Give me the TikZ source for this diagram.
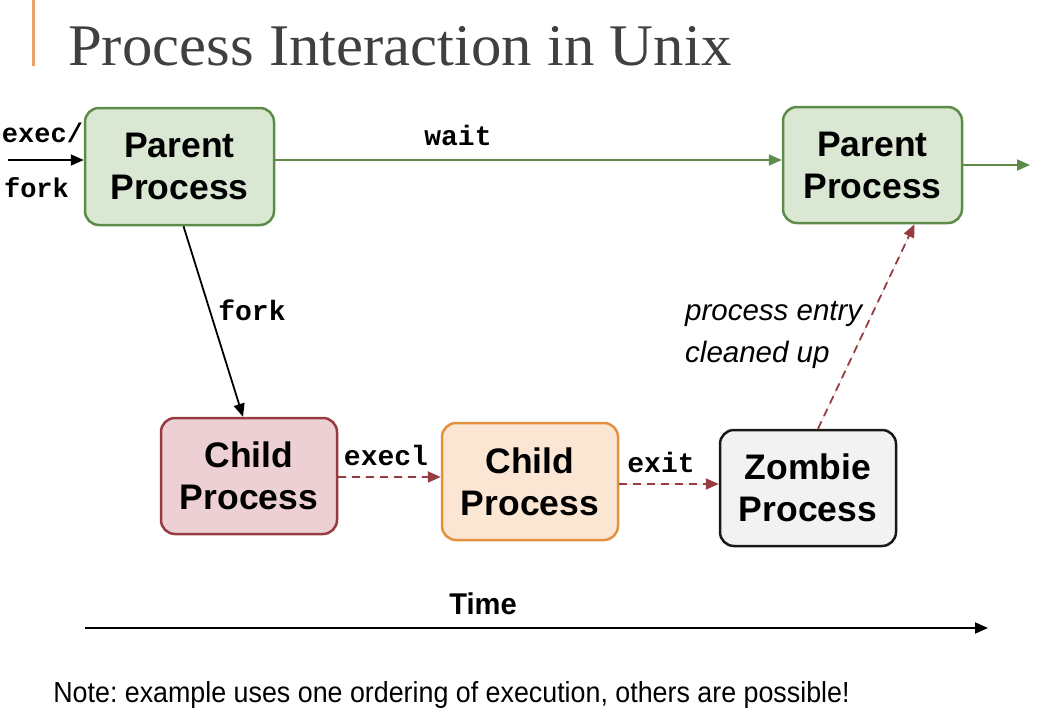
\documentclass[tikz,border=0pt]{standalone}
\usepackage{fontspec}
\usepackage{graphicx}
\setmainfont{Liberation Serif}
\setsansfont{Liberation Sans}
\setmonofont{Liberation Mono}
\usetikzlibrary{arrows.meta}
\frenchspacing
\definecolor{grnB}{HTML}{5D8B48}
\definecolor{grnF}{HTML}{DAE8D3}
\definecolor{redB}{HTML}{963C40}
\definecolor{redF}{HTML}{EDD0D3}
\definecolor{orgB}{HTML}{E3913F}
\definecolor{orgF}{HTML}{FAE6D3}
\definecolor{zomF}{HTML}{F2F2F2}
\definecolor{titleC}{HTML}{404040}
\definecolor{barC}{HTML}{E8A263}
\tikzset{
  procbox/.style={rounded corners=14pt, line width=2.5pt, minimum width=#1, minimum height=116pt,
    align=center, font=\fontsize{35.5}{42}\selectfont\sffamily\bfseries, inner sep=0pt},
  procbox/.default=176pt,
  monolbl/.style={font=\fontsize{28}{30}\selectfont\ttfamily\bfseries, inner sep=0pt},
  arr/.style={line width=1.8pt, -{Triangle[length=13pt,width=11pt]}},
  dsh/.style={arr, dash pattern=on 8pt off 6pt, draw=redB},
}
\begin{document}
\begin{tikzpicture}[x=1pt,y=-1pt]
\useasboundingbox (0,0) rectangle (1042,720);
% title
\fill[barC] (32,0) rectangle (35,66);
\node[anchor=base west, inner sep=0pt, text=titleC, font=\fontsize{59}{62}\selectfont] (title) at (68,65) {\scalebox{1.03}[1]{Process Interaction in Unix}};
% boxes
\node[procbox=189pt, draw=grnB, fill=grnF, minimum height=117pt] (p1) at (179.5,166.5) {Parent\\Process};
\node[procbox=179pt, draw=grnB, fill=grnF] (p2) at (872.5,165) {Parent\\Process};
\node[procbox, draw=redB, fill=redF] (c1) at (249,476) {Child\\Process};
\node[procbox, draw=orgB, fill=orgF, minimum height=117pt] (c2) at (530,481.5) {Child\\Process};
\node[procbox, draw=black!90, fill=zomF] (z) at (808,488) {Zombie\\Process};
% coordinates
\coordinate (in) at (8,160);
\coordinate (wy) at (0,160);
\coordinate (out) at (1030,165);
\coordinate (ey) at (0,484);
\coordinate (xy) at (0,477);
% connectors
\draw[arr] (in) -- (in -| p1.west);
\draw[arr, draw=grnB, fill=grnB] (p1.east |- wy) -- (p2.west |- wy);
\draw[arr, draw=grnB, fill=grnB] (p2.east |- out) -- (out);
\draw[arr] ([xshift=4pt]p1.south) -- ([xshift=-6pt]c1.north);
\draw[dsh, fill=redB] (c1.east |- xy) -- (c2.west |- xy);
\draw[dsh, fill=redB] (c2.east |- ey) -- (z.west |- ey);
\draw[dsh, fill=redB] ([xshift=10pt]z.north) -- ([xshift=42pt]p2.south);
% labels
\node[monolbl, font=\fontsize{27}{30}\selectfont\ttfamily\bfseries] (l1) at (42.5,133) {exec/};
\node[monolbl, font=\fontsize{27}{30}\selectfont\ttfamily\bfseries] (l2) at (36.5,188) {fork};
\node[monolbl] (l3) at (458,135) {wait};
\node[monolbl] (l4) at (252,310) {fork};
\node[monolbl] (l5) at (386,455) {execl};
\node[monolbl] (l6) at (661,462) {exit};
\node[anchor=west, align=left, inner sep=0pt, font=\fontsize{29.5}{42}\selectfont\sffamily\itshape] (l7) at (685,335) {process entry\\cleaned up};
% time
\coordinate (t0) at (85,628);
\coordinate (t1) at (988,628);
\draw[arr, line width=2pt] (t0) -- (t1);
\node[inner sep=0pt, font=\fontsize{30}{32}\selectfont\sffamily\bfseries] (time) at (483,604) {\scalebox{0.97}[1]{Time}};
\node[inner sep=0pt, font=\fontsize{29}{32}\selectfont\sffamily] (note) at (451.5,695) {\scalebox{0.925}[1]{Note: example uses one ordering of execution, others are possible!}};
\end{tikzpicture}
\end{document}
